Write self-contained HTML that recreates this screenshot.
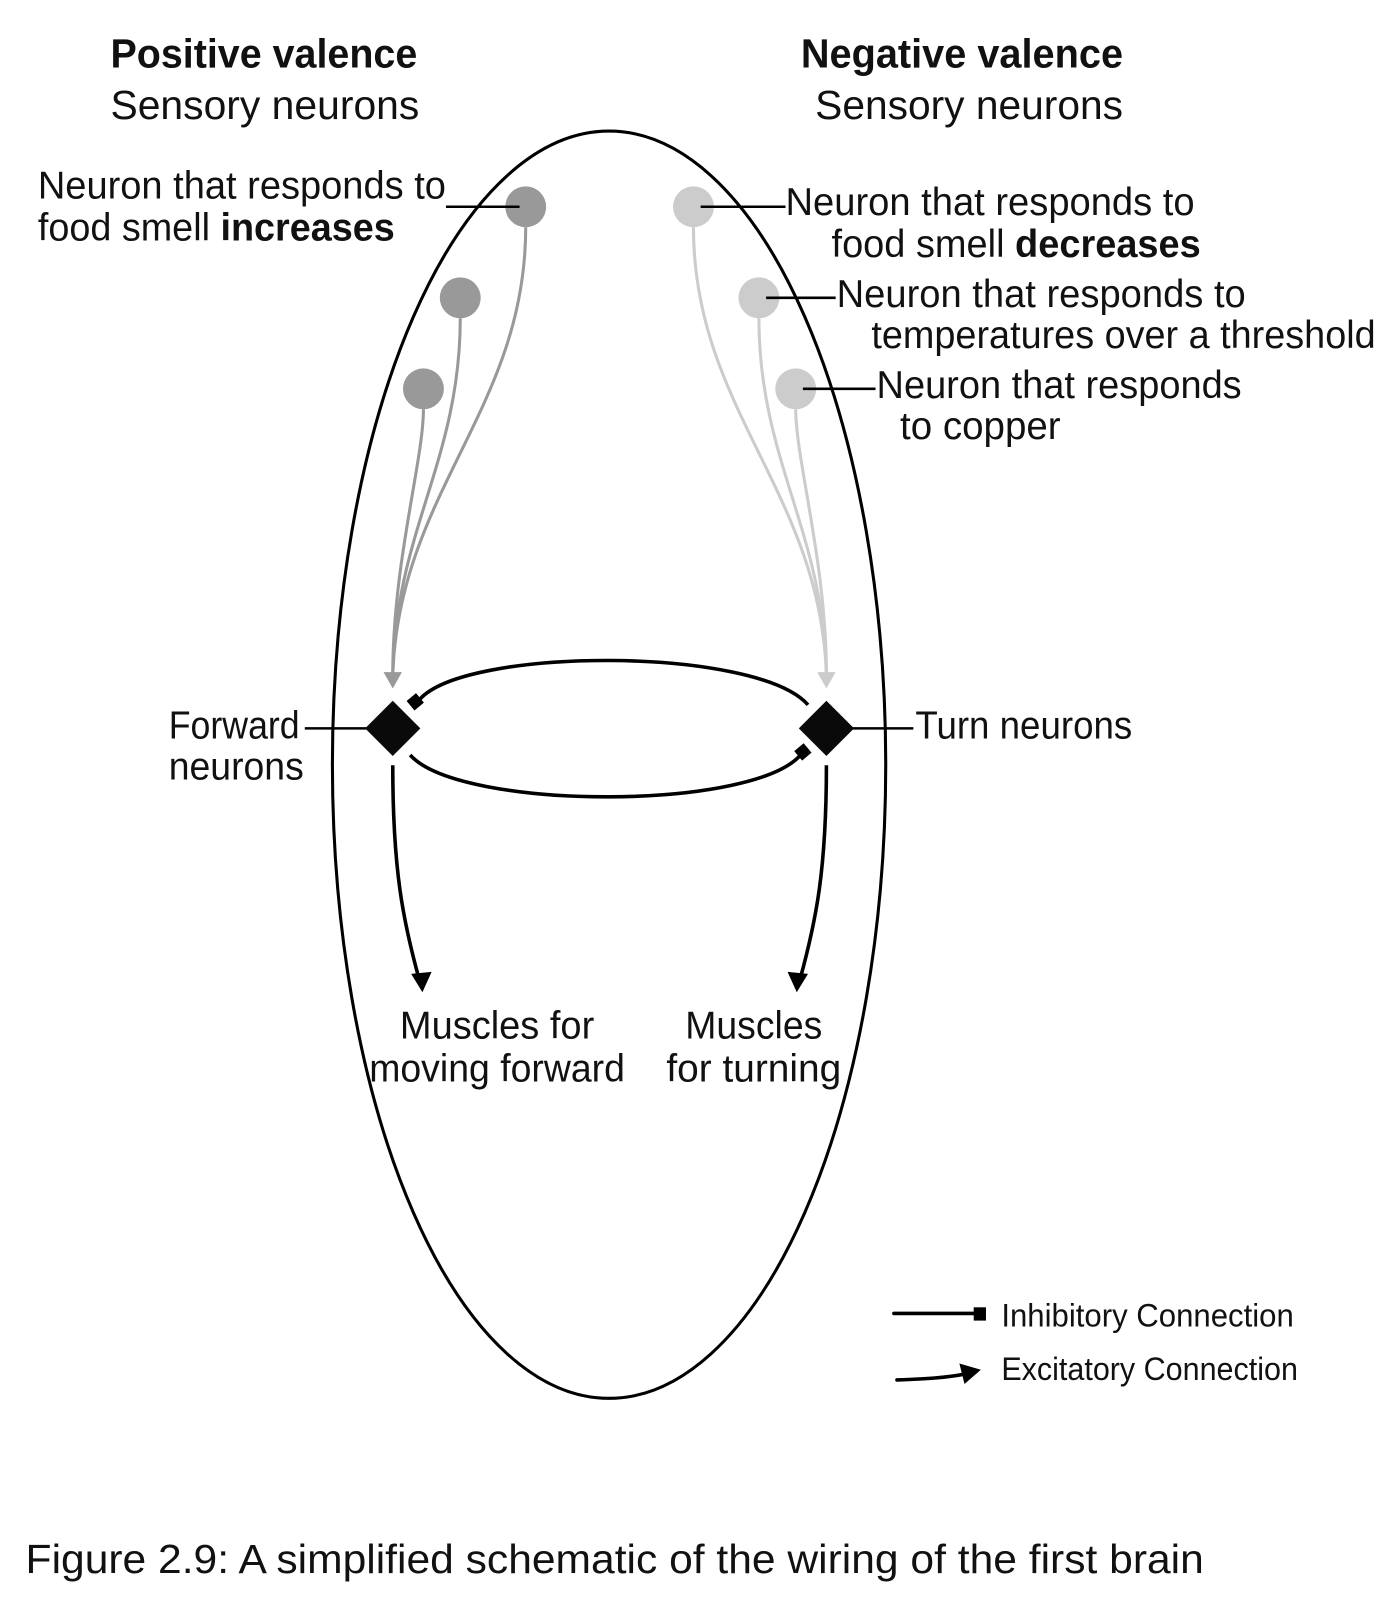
<!DOCTYPE html>
<html><head><meta charset="utf-8"><style>
html,body{margin:0;padding:0;background:#fff;}
svg{display:block;}
text{font-family:"Liberation Sans Narrow","Liberation Sans",sans-serif;fill:#111;}
</style></head><body>
<svg width="1391" height="1600" viewBox="0 0 1360 1564" xmlns="http://www.w3.org/2000/svg">
<defs>
<marker id="ag" viewBox="0 0 10 10" refX="5" refY="10" markerWidth="16" markerHeight="14" orient="auto" markerUnits="userSpaceOnUse"></marker>
</defs>
<!-- headings -->
<text x="108" y="66" font-size="40" font-weight="bold" textLength="300" lengthAdjust="spacingAndGlyphs">Positive valence</text>
<text x="108" y="116" font-size="40" textLength="302" lengthAdjust="spacingAndGlyphs">Sensory neurons</text>
<text x="783" y="66" font-size="40" font-weight="bold" textLength="315" lengthAdjust="spacingAndGlyphs">Negative valence</text>
<text x="797" y="116" font-size="40" textLength="301" lengthAdjust="spacingAndGlyphs">Sensory neurons</text>

<!-- body ellipse -->
<ellipse cx="595.5" cy="747.5" rx="270.5" ry="619.5" fill="none" stroke="#000" stroke-width="3"/>

<!-- left curves -->
<g fill="none" stroke="#999" stroke-width="3">
<path d="M514 222 C514 400 390 480 384 660"/>
<path d="M450 311 C450 450 386 520 384 660"/>
<path d="M414 400 C414 450 384 550 384 660"/>
</g>
<polygon points="375,657 393,657 384,673" fill="#999"/>
<g fill="none" stroke="#ccc" stroke-width="3">
<path d="M678 222 C678 400 802 480 808 660"/>
<path d="M742 311 C742 450 806 520 808 660"/>
<path d="M778 400 C778 450 808 550 808 660"/>
</g>
<polygon points="799,657 817,657 808,673" fill="#ccc"/>

<!-- neurons -->
<circle cx="514" cy="202" r="20" fill="#999"/>
<circle cx="450" cy="291" r="20" fill="#999"/>
<circle cx="414" cy="380" r="20" fill="#999"/>
<circle cx="678" cy="202" r="20" fill="#ccc"/>
<circle cx="742" cy="291" r="20" fill="#ccc"/>
<circle cx="778" cy="380" r="20" fill="#ccc"/>

<!-- leader lines -->
<g stroke="#000" stroke-width="2.5">
<line x1="436" y1="202" x2="508" y2="202"/>
<line x1="685" y1="202" x2="768" y2="202"/>
<line x1="749" y1="291" x2="817" y2="291"/>
<line x1="785" y1="380" x2="856" y2="380"/>
<line x1="298" y1="712" x2="376" y2="712"/>
<line x1="816" y1="712" x2="893" y2="712"/>
</g>

<!-- labels -->
<text x="37" y="194" font-size="38" textLength="399" lengthAdjust="spacingAndGlyphs">Neuron that responds to</text>
<text x="37" y="235" font-size="38" textLength="349" lengthAdjust="spacingAndGlyphs">food smell <tspan font-weight="bold">increases</tspan></text>
<text x="768" y="210" font-size="38" textLength="400" lengthAdjust="spacingAndGlyphs">Neuron that responds to</text>
<text x="813" y="251" font-size="38" textLength="361" lengthAdjust="spacingAndGlyphs">food smell <tspan font-weight="bold">decreases</tspan></text>
<text x="818" y="300" font-size="38" textLength="400" lengthAdjust="spacingAndGlyphs">Neuron that responds to</text>
<text x="852" y="340" font-size="38" textLength="493" lengthAdjust="spacingAndGlyphs">temperatures over a threshold</text>
<text x="857" y="389" font-size="38" textLength="357" lengthAdjust="spacingAndGlyphs">Neuron that responds</text>
<text x="880" y="429" font-size="38" textLength="157" lengthAdjust="spacingAndGlyphs">to copper</text>
<text x="165" y="722" font-size="38" textLength="128" lengthAdjust="spacingAndGlyphs">Forward</text>
<text x="165" y="762" font-size="38" textLength="132" lengthAdjust="spacingAndGlyphs">neurons</text>
<text x="895" y="722" font-size="38" textLength="212" lengthAdjust="spacingAndGlyphs">Turn neurons</text>

<!-- inner loop -->
<g fill="none" stroke="#000" stroke-width="3.5">
<path d="M790 689 C740 632 455 632 410 684"/>
<path d="M401 738 C450 793 745 793 785 735"/>
</g>
<rect x="400" y="680" width="12" height="12" fill="#000" transform="rotate(-40 406 686)"/>
<rect x="779" y="729" width="12" height="12" fill="#000" transform="rotate(-40 785 735)"/>

<!-- diamonds -->
<polygon points="384,685 411,712 384,739 357,712" fill="#0a0a0a"/>
<polygon points="808,685 835,712 808,739 781,712" fill="#0a0a0a"/>

<!-- down arrows -->
<g fill="none" stroke="#000" stroke-width="3.5">
<path d="M384 748 C384 850 394 900 410 958"/>
<path d="M808 748 C808 850 798 900 782 958"/>
</g>
<polygon points="402,952 422,950 413,970" fill="#000"/>
<polygon points="770,950 790,952 779,970" fill="#000"/>

<text x="486" y="1015" font-size="38" text-anchor="middle" textLength="190" lengthAdjust="spacingAndGlyphs">Muscles for</text>
<text x="486" y="1057" font-size="38" text-anchor="middle" textLength="250" lengthAdjust="spacingAndGlyphs">moving forward</text>
<text x="737" y="1015" font-size="38" text-anchor="middle" textLength="134" lengthAdjust="spacingAndGlyphs">Muscles</text>
<text x="737" y="1057" font-size="38" text-anchor="middle" textLength="171" lengthAdjust="spacingAndGlyphs">for turning</text>

<!-- legend -->
<line x1="874" y1="1284" x2="955" y2="1284" stroke="#000" stroke-width="3.5" stroke-linecap="round"/>
<rect x="952" y="1278" width="12" height="13" fill="#000"/>
<path d="M877 1349 C905 1348 925 1347 945 1343" fill="none" stroke="#000" stroke-width="3.5" stroke-linecap="round"/>
<polygon points="938,1333 959,1339 943,1353" fill="#000"/>
<text x="979" y="1297" font-size="32" textLength="286" lengthAdjust="spacingAndGlyphs">Inhibitory Connection</text>
<text x="979" y="1349" font-size="32" textLength="290" lengthAdjust="spacingAndGlyphs">Excitatory Connection</text>

<!-- caption -->
<text x="25" y="1538" font-size="40" textLength="1152" lengthAdjust="spacingAndGlyphs">Figure 2.9: A simplified schematic of the wiring of the first brain</text>
</svg>
</body></html>
